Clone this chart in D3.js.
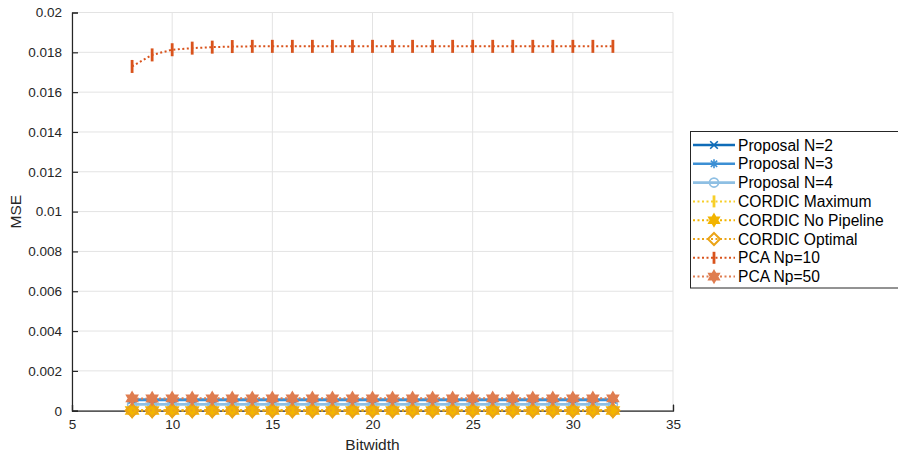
<!DOCTYPE html>
<html>
<head>
<meta charset="utf-8">
<script src="https://cdn.jsdelivr.net/npm/d3@7"></script>
<style>
  html, body { margin: 0; padding: 0; background: #fff; }
  svg { display: block; font-family: "Liberation Sans", Arial, sans-serif; }
</style>
</head>
<body>
<svg id="chart" width="898" height="455"></svg>
<script>
// Bitwidths swept
const bitwidths = [8, 9, 10, 11, 12, 13, 14, 15, 16, 17, 18, 19, 20, 21, 22, 23, 24, 25, 26, 27, 28, 29, 30, 31, 32];

// MSE per bitwidth for each implementation
const proposalN2 = [0.00055, 0.00055, 0.00055, 0.00055, 0.00055, 0.00055, 0.00055, 0.00055, 0.00055, 0.00055, 0.00055, 0.00055, 0.00055, 0.00055, 0.00055, 0.00055, 0.00055, 0.00055, 0.00055, 0.00055, 0.00055, 0.00055, 0.00055, 0.00055, 0.00055];
const proposalN3 = [0.00054, 0.00054, 0.00054, 0.00054, 0.00054, 0.00054, 0.00054, 0.00054, 0.00054, 0.00054, 0.00054, 0.00054, 0.00054, 0.00054, 0.00054, 0.00054, 0.00054, 0.00054, 0.00054, 0.00054, 0.00054, 0.00054, 0.00054, 0.00054, 0.00054];
const proposalN4 = [0.00032, 0.00032, 0.00032, 0.00032, 0.00032, 0.00032, 0.00032, 0.00032, 0.00032, 0.00032, 0.00032, 0.00032, 0.00032, 0.00032, 0.00032, 0.00032, 0.00032, 0.00032, 0.00032, 0.00032, 0.00032, 0.00032, 0.00032, 0.00032, 0.00032];
const cordicMaximum = [0.00002, 0.00002, 0.00002, 0.00002, 0.00002, 0.00002, 0.00002, 0.00002, 0.00002, 0.00002, 0.00002, 0.00002, 0.00002, 0.00002, 0.00002, 0.00002, 0.00002, 0.00002, 0.00002, 0.00002, 0.00002, 0.00002, 0.00002, 0.00002, 0.00002];
const cordicNoPipeline = [0.00001, 0.00001, 0.00001, 0.00001, 0.00001, 0.00001, 0.00001, 0.00001, 0.00001, 0.00001, 0.00001, 0.00001, 0.00001, 0.00001, 0.00001, 0.00001, 0.00001, 0.00001, 0.00001, 0.00001, 0.00001, 0.00001, 0.00001, 0.00001, 0.00001];
const cordicOptimal = [0.00001, 0.00001, 0.00001, 0.00001, 0.00001, 0.00001, 0.00001, 0.00001, 0.00001, 0.00001, 0.00001, 0.00001, 0.00001, 0.00001, 0.00001, 0.00001, 0.00001, 0.00001, 0.00001, 0.00001, 0.00001, 0.00001, 0.00001, 0.00001, 0.00001];
const pcaNp10 = [0.01729, 0.01787, 0.01813, 0.01821, 0.01826, 0.01829, 0.0183, 0.0183, 0.0183, 0.0183, 0.0183, 0.0183, 0.0183, 0.0183, 0.0183, 0.0183, 0.0183, 0.0183, 0.0183, 0.0183, 0.0183, 0.0183, 0.0183, 0.0183, 0.0183];
const pcaNp50 = [0.00062, 0.00061, 0.00062, 0.00062, 0.00062, 0.00062, 0.00062, 0.00062, 0.00062, 0.00062, 0.00062, 0.00062, 0.00062, 0.00062, 0.00062, 0.00062, 0.00062, 0.00062, 0.00062, 0.00062, 0.00062, 0.00062, 0.00062, 0.00062, 0.00062];

const seriesNames = ["Proposal N=2", "Proposal N=3", "Proposal N=4", "CORDIC Maximum", "CORDIC No Pipeline", "CORDIC Optimal", "PCA Np=10", "PCA Np=50"];

// Axis ticks
const xTicks = [5, 10, 15, 20, 25, 30, 35];
const yTicks = [0, 0.002, 0.004, 0.006, 0.008, 0.01, 0.012, 0.014, 0.016, 0.018, 0.02];
const yTickLabels = ["0", "0.002", "0.004", "0.006", "0.008", "0.01", "0.012", "0.014", "0.016", "0.018", "0.02"];

// Drawing style for each series
const styles = [
  { values: proposalN2, color: "#0f6cb8", dash: null, width: 2.6, marker: "x", size: 3.8 },
  { values: proposalN3, color: "#3c8fd4", dash: null, width: 2.6, marker: "asterisk", size: 4.5 },
  { values: proposalN4, color: "#8ebfe3", dash: null, width: 2.6, marker: "circle", size: 4.5 },
  { values: cordicMaximum, color: "#f7cf2a", dash: "2,2.5", width: 2, marker: "vbar", size: 6.5 },
  { values: cordicNoPipeline, color: "#f2b400", dash: "2,2.5", width: 2, marker: "hexagram", size: 7 },
  { values: cordicOptimal, color: "#eba417", dash: "2,2.5", width: 2, marker: "diamond", size: 6.5 },
  { values: pcaNp10, color: "#d9531c", dash: "2,2.5", width: 2, marker: "vbar", size: 6.5 },
  { values: pcaNp50, color: "#df7d50", dash: "2,2.5", width: 2, marker: "hexagram", size: 6.3 }
];

const svg = d3.select("#chart");
const margin = { left: 72, top: 12.5, right: 673, bottom: 410.7 };

const x = d3.scaleLinear().domain([5, 35]).range([margin.left, margin.right]);
const y = d3.scaleLinear().domain([0, 0.02]).range([margin.bottom, margin.top]);

// Grid
const grid = svg.append("g");
grid.selectAll("line.gx").data(xTicks).join("line")
  .attr("x1", d => x(d)).attr("x2", d => x(d))
  .attr("y1", margin.top).attr("y2", margin.bottom)
  .attr("stroke", "#e3e3e3").attr("stroke-width", 1);
grid.selectAll("line.gy").data(yTicks).join("line")
  .attr("x1", margin.left).attr("x2", margin.right)
  .attr("y1", d => y(d)).attr("y2", d => y(d))
  .attr("stroke", "#e3e3e3").attr("stroke-width", 1);

// Axes with inward ticks
const xAxis = d3.axisBottom(x).tickValues(xTicks).tickSize(-6).tickPadding(9).tickFormat(d3.format("d"));
const yAxis = d3.axisLeft(y).tickValues(yTicks).tickSize(-6).tickPadding(10)
  .tickFormat((d, i) => yTickLabels[i]);

const gx = svg.append("g").attr("transform", `translate(0,${margin.bottom})`).call(xAxis);
const gy = svg.append("g").attr("transform", `translate(${margin.left},0)`).call(yAxis);
[gx, gy].forEach(g => {
  g.select(".domain").attr("stroke", "#262626").attr("stroke-width", 1.2);
  g.selectAll(".tick line").attr("stroke", "#262626").attr("stroke-width", 1.2);
  g.selectAll(".tick text").attr("fill", "#262626").style("font-size", "13.5px")
    .style("font-family", "'Liberation Sans', Arial, sans-serif");
});
gx.selectAll(".tick text").attr("dy", "0.72em");

// Axis labels
svg.append("text").attr("x", (margin.left + margin.right) / 2).attr("y", 450)
  .attr("text-anchor", "middle").attr("fill", "#262626").style("font-size", "15.5px").text("Bitwidth");
svg.append("text").attr("transform", `translate(21,${(margin.top + margin.bottom) / 2}) rotate(-90)`)
  .attr("text-anchor", "middle").attr("fill", "#262626").style("font-size", "15.5px").text("MSE");

// Marker shapes
function markerPath(type, size) {
  const p = d3.path();
  if (type === "x") {
    const r = size;
    p.moveTo(-r, -r); p.lineTo(r, r); p.moveTo(-r, r); p.lineTo(r, -r);
  } else if (type === "asterisk") {
    const r = size, s = r * 0.7;
    p.moveTo(0, -r); p.lineTo(0, r); p.moveTo(-r, 0); p.lineTo(r, 0);
    p.moveTo(-s, -s); p.lineTo(s, s); p.moveTo(-s, s); p.lineTo(s, -s);
  } else if (type === "circle") {
    p.arc(0, 0, size, 0, 2 * Math.PI);
  } else if (type === "vbar") {
    p.moveTo(0, -size); p.lineTo(0, size);
  } else if (type === "diamond") {
    const r = size;
    p.moveTo(0, -r); p.lineTo(r, 0); p.lineTo(0, r); p.lineTo(-r, 0); p.closePath();
  } else if (type === "hexagram") {
    const R = size, r = R / Math.sqrt(3);
    for (let k = 0; k < 12; k++) {
      const rad = k % 2 === 0 ? R : r;
      const a = -Math.PI / 2 + k * Math.PI / 6;
      const px = rad * Math.cos(a), py = rad * Math.sin(a);
      if (k === 0) p.moveTo(px, py); else p.lineTo(px, py);
    }
    p.closePath();
  }
  return p.toString();
}

function drawMarker(g, type, size, color, cx, cy) {
  const filled = type === "hexagram";
  const sw = type === "vbar" ? 2.8 : (type === "diamond" ? 2 : 1.6);
  g.append("path").attr("d", markerPath(type, size))
    .attr("transform", `translate(${cx},${cy})`)
    .attr("fill", filled ? color : "none")
    .attr("stroke", color).attr("stroke-width", sw);
}

// Series lines and markers
const line = d3.line().x(d => x(d[0])).y(d => y(d[1]));
const plot = svg.append("g");
styles.forEach(s => {
  const pts = bitwidths.map((b, i) => [b, s.values[i]]);
  const g = plot.append("g");
  g.append("path").datum(pts).attr("d", line)
    .attr("fill", "none").attr("stroke", s.color).attr("stroke-width", s.width)
    .attr("stroke-dasharray", s.dash);
  pts.forEach(p => drawMarker(g, s.marker, s.size, s.color, x(p[0]), y(p[1])));
});

// Legend
const lg = svg.append("g");
lg.append("rect").attr("x", 690.5).attr("y", 131.5).attr("width", 210).attr("height", 156.5)
  .attr("fill", "#fff").attr("stroke", "#262626").attr("stroke-width", 1);
styles.forEach((s, i) => {
  const cy = 145 + i * 18.8;
  lg.append("line").attr("x1", 693).attr("x2", 735).attr("y1", cy).attr("y2", cy)
    .attr("stroke", s.color).attr("stroke-width", s.width).attr("stroke-dasharray", s.dash);
  drawMarker(lg, s.marker, Math.min(s.size, 6), s.color, 714, cy);
  lg.append("text").attr("x", 738).attr("y", cy).attr("dy", "0.36em")
    .attr("fill", "#000").style("font-size", "15.6px").text(seriesNames[i]);
});
</script>
</body>
</html>
